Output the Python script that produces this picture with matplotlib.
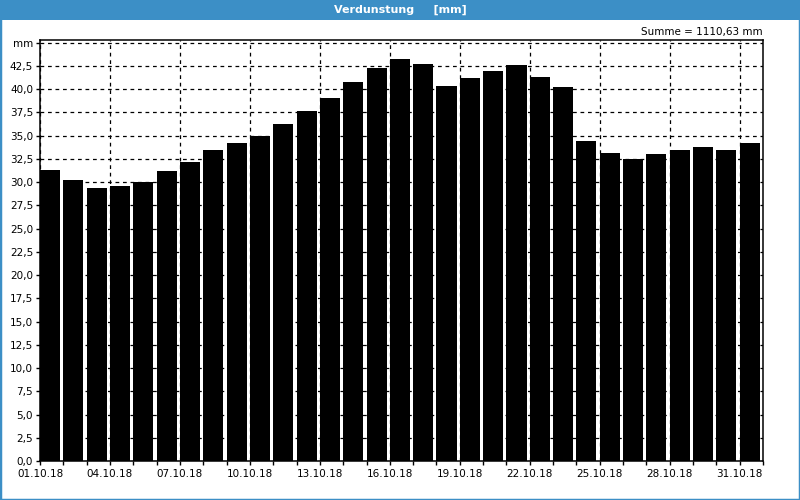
"""
Daily evaporation (Verdunstung) for October 2018 as a bar chart,
styled like the weather-station export.
"""

import matplotlib.pyplot as plt
from matplotlib.patches import Rectangle

BLUE = "#3c8fc6"

days = list(range(1, 32))
evaporation = [
    31.3, 30.25, 29.4, 29.6, 30.0, 31.2, 32.2, 33.5, 34.2,
    35.0, 36.3, 37.7, 39.1, 40.8, 42.3, 43.3, 42.7, 40.4, 41.2, 42.0, 42.6,
    41.3, 40.2, 34.45, 33.15, 32.5, 33.05, 33.5, 33.8, 33.5, 34.2,
]
y_ticks = [i * 2.5 for i in range(19)]
y_labels = [f"{v:.1f}".replace(".", ",") for v in y_ticks[:-1]] + ["mm"]
x_tick_days = list(range(1, 32, 3))
x_labels = [f"{d:02d}.10.18" for d in x_tick_days]
total_text = "Summe = 1110,63 mm"

plt.rcParams["font.family"] = ["DejaVu Sans"]

fig = plt.figure(figsize=(8, 5), dpi=100)
fig.patch.set_facecolor("white")

# blue frame + title bar
fig.patches.append(Rectangle((0, 0), 1, 1, transform=fig.transFigure,
                             fill=False, edgecolor=BLUE, linewidth=2.5))
fig.patches.append(Rectangle((0, 1 - 20 / 500), 1, 20 / 500,
                             transform=fig.transFigure,
                             facecolor=BLUE, edgecolor="none"))
fig.text(0.5, 1 - 10 / 500, "Verdunstung     [mm]", color="white",
         fontsize=8, fontweight="bold", ha="center", va="center")

ax = fig.add_axes([40 / 800, 39 / 500, 723 / 800, 421 / 500])

# each day occupies one slot; bar starts at the slot's left edge
positions = [d - 1 for d in days]
ax.bar(positions, evaporation, width=0.86, align="edge", color="black",
       zorder=2)

ax.set_xlim(0, 31)
ax.set_ylim(0, 45.3)

ax.set_yticks(y_ticks)
ax.set_yticklabels(y_labels)
ax.set_xticks([d - 1 for d in x_tick_days])
ax.set_xticklabels(x_labels)
ax.set_xticks(positions + [31], minor=True)

ax.tick_params(axis="both", which="both", direction="out", length=3,
               width=1, labelsize=7.5, colors="black")
ax.tick_params(axis="y", pad=2)
ax.tick_params(axis="x", pad=3)

ax.grid(True, which="major", color="black", linestyle=(0, (3, 3)),
        linewidth=0.9, zorder=1)
ax.set_axisbelow(True)

for spine in ax.spines.values():
    spine.set_linewidth(1.1)
    spine.set_color("black")

fig.text(763 / 800, 1 - 32 / 500, total_text, fontsize=7.5,
         ha="right", va="center")

fig.savefig("out.png", dpi=100)
